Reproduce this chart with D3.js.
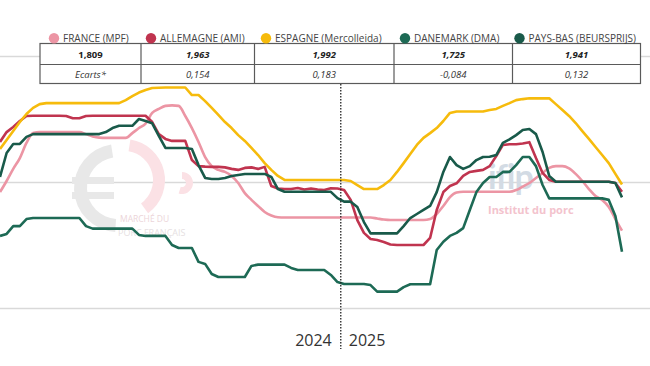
<!DOCTYPE html>
<html><head><meta charset="utf-8">
<script src="https://cdn.jsdelivr.net/npm/d3@7"></script>
<style>
html,body{margin:0;padding:0;background:#fff;}
svg{display:block;font-family:"Open Sans",sans-serif;}
</style></head>
<body>
<svg id="c" width="650" height="366"></svg>
<script>
// ---------- DATA ----------
const seriesNames = ["FRANCE (MPF)", "ALLEMAGNE (AMI)", "ESPAGNE (Mercolleida)", "DANEMARK (DMA)", "PAYS-BAS (BEURSPRIJS)"];
const lastValues = ["1,809", "1,963", "1,992", "1,725", "1,941"];
const ecarts = ["Ecarts*", "0,154", "0,183", "-0,084", "0,132"];
const yearLabels = ["2024", "2025"];
const gridValues = [1.5, 2.0, 2.5];
// weekly prices (€/kg), 2024 week 1 -> 2025 week 43
const france = [1.962,2.006,2.054,2.097,2.157,2.196,
2.200,2.200,2.200,2.200,2.200,2.200,2.200,
2.192,2.183,2.178,2.177,2.177,2.177,2.177,
2.196,2.216,2.234,2.276,2.292,2.304,2.306,2.304,2.264,2.216,2.161,2.101,2.065,2.050,2.042,2.026,1.998,1.958,1.931,1.907,1.883,1.869,1.862,
1.861,1.861,1.861,1.861,1.861,1.861,1.861,1.861,1.861,1.861,1.861,1.861,1.861,1.861,
1.857,1.853,1.851,1.851,1.851,1.851,1.851,1.851,
1.855,1.875,1.907,1.942,1.960,
1.963,1.963,1.963,1.963,1.963,1.963,1.963,1.963,
1.970,1.984,1.998,2.018,2.038,2.058,2.065,2.065,2.056,2.034,2.006,1.974,1.946,1.931,1.903,1.855,1.809];
const allemagne = [2.161,2.200,2.220,2.244,2.264,
2.265,2.265,2.265,2.265,2.265,
2.264,2.255,2.255,2.264,
2.265,2.265,2.265,2.265,2.265,2.265,2.265,2.265,2.265,
2.240,2.192,2.173,2.165,2.165,2.165,
2.089,2.065,2.063,2.062,2.062,2.060,2.054,2.050,2.058,2.060,2.054,2.062,
1.986,1.976,1.974,1.974,1.978,1.972,1.976,1.972,1.970,1.977,1.976,1.970,
1.931,1.851,1.800,1.776,1.772,1.764,1.754,
1.752,1.752,1.752,1.752,1.752,
1.780,1.891,1.962,1.986,1.997,2.026,2.042,2.046,2.050,2.065,2.105,2.149,2.152,2.152,2.155,2.160,2.097,2.038,2.010,
2.003,2.003,2.003,2.003,2.003,2.003,2.003,2.003,2.003,
1.998,1.963];
const espagne = [2.133,2.169,2.204,2.240,2.272,2.296,2.311,
2.315,2.315,2.315,2.315,2.315,2.315,2.315,2.315,2.315,2.315,2.315,2.315,
2.327,2.343,2.357,2.367,2.375,2.376,
2.377,2.377,2.377,2.377,
2.347,2.347,2.323,2.296,2.268,2.240,2.216,2.188,2.165,2.137,2.109,2.077,2.050,2.026,2.010,
2.010,2.010,2.010,2.010,2.010,2.010,2.010,2.010,2.010,
2.006,1.990,1.974,1.974,1.974,1.990,2.010,2.042,2.077,2.113,2.149,2.177,2.196,2.216,2.244,2.276,
2.282,2.282,2.282,2.282,2.282,
2.288,2.292,2.304,2.315,2.327,2.331,
2.334,2.334,2.334,2.334,
2.311,2.288,2.264,2.236,2.204,2.173,2.141,2.109,2.077,2.034,1.992];
const danemark = [1.788,1.796,1.827,1.827,1.855,
1.859,1.859,1.859,1.859,1.859,1.859,1.859,1.859,
1.827,
1.817,1.817,1.817,1.817,1.817,1.817,1.817,
1.792,
1.788,1.788,1.788,1.788,
1.752,1.740,1.740,1.740,
1.685,1.677,1.637,
1.625,1.625,1.625,1.625,1.625,
1.669,
1.674,1.674,1.674,1.674,1.674,
1.661,
1.653,1.653,1.653,1.653,1.653,
1.633,1.605,
1.597,1.597,1.597,1.597,
1.593,
1.567,1.567,1.567,1.567,
1.585,
1.596,1.596,1.596,1.596,
1.732,1.765,1.788,1.800,1.819,1.891,1.962,1.998,2.022,2.022,2.042,2.042,2.069,2.101,2.101,2.065,1.990,
1.937,1.937,1.937,1.937,1.937,1.937,1.937,1.937,1.937,
1.931,1.867,1.725];
const paysBas = [2.022,2.117,2.153,2.153,2.181,
2.192,2.192,2.192,2.192,2.192,2.192,2.192,2.192,2.192,2.192,2.192,
2.200,2.216,
2.225,2.225,2.225,
2.252,2.244,2.235,2.185,
2.137,2.137,2.137,2.137,
2.133,2.069,2.018,2.014,2.014,2.018,2.026,2.030,
2.034,2.034,2.034,2.034,
2.022,1.974,
1.963,1.963,1.963,1.963,1.963,1.963,1.963,1.963,
1.938,1.924,1.924,1.903,1.843,
1.798,1.798,1.798,1.798,1.798,
1.827,1.859,1.875,1.891,1.907,1.962,2.042,2.101,2.069,2.054,2.065,2.089,2.101,2.102,2.109,2.157,2.171,2.188,2.208,2.212,2.192,2.121,2.026,
2.003,2.003,2.003,2.003,2.003,2.003,2.003,2.003,2.003,
1.998,1.941];
const seriesValues = [france, allemagne, espagne, danemark, paysBas];
const yearBreakIndex = 51.5; // between 2024 W52 and 2025 W1

// ---------- STYLE / LAYOUT ----------
const colors = ["#ec95a4", "#c0344f", "#f6bb0c", "#1d6a55", "#195a4a"];
const W = 650, H = 366;
const svg = d3.select("#c");
const x = d3.scaleLinear().domain([0, france.length - 1]).range([0, 622]);
const y = d3.scaleLinear().domain([1.5, 2.5]).range([308.5, 56.5]);

// gridlines
svg.append("g").selectAll("line").data(gridValues).join("line")
  .attr("x1", 0).attr("x2", W)
  .attr("y1", d => y(d)).attr("y2", d => y(d))
  .attr("stroke", "#d9d9d9").attr("stroke-width", 1.5);

// watermarks
const wm = svg.append("g");
const arc = d3.arc();
wm.append("path").attr("transform", "translate(118,188)")
  .attr("d", arc({innerRadius: 31, outerRadius: 44, startAngle: Math.PI * 1.02, endAngle: Math.PI * 1.95}))
  .attr("fill", "#e8e8e8");
wm.append("rect").attr("x", 72).attr("y", 177).attr("width", 42).attr("height", 7).attr("fill", "#e8e8e8");
wm.append("rect").attr("x", 72).attr("y", 192).attr("width", 42).attr("height", 7).attr("fill", "#e8e8e8");
wm.append("path").attr("transform", "translate(124,180)")
  .attr("d", arc({innerRadius: 29, outerRadius: 41, startAngle: Math.PI * 0.05, endAngle: Math.PI * 0.8}))
  .attr("fill", "#fbe1e5");
wm.append("path").attr("transform", "translate(182,183)")
  .attr("d", arc({innerRadius: 4, outerRadius: 11, startAngle: 0, endAngle: Math.PI * 1.1}))
  .attr("fill", "#fbe1e5");
wm.append("text").attr("x", 120).attr("y", 222).attr("font-size", 8.5).attr("fill", "#ecd5d9").text("MARCHÉ DU");
wm.append("text").attr("x", 118).attr("y", 235.5).attr("font-size", 9).attr("fill", "#e6dfe2").text("PORC FRANÇAIS");
wm.append("text").attr("x", 488).attr("y", 189).attr("font-size", 34).attr("font-weight", 700)
  .attr("font-family", "Lato, sans-serif").attr("fill", "#d3dbe4").attr("letter-spacing", -1).text("ifip");
wm.append("text").attr("x", 488).attr("y", 214).attr("font-size", 11).attr("font-weight", 700)
  .attr("fill", "#f3c3cd").text("Institut du porc");

// lines
const line = d3.line().x((d, i) => x(i)).y(d => y(d));
const lineSmooth = d3.line().x((d, i) => x(i)).y(d => y(d)).curve(d3.curveMonotoneX);
svg.append("g").selectAll("path").data(seriesValues).join("path")
  .attr("d", (d, i) => i === 0 ? lineSmooth(d) : line(d))
  .attr("fill", "none")
  .attr("stroke", (d, i) => colors[i])
  .attr("stroke-width", 2.6)
  .attr("stroke-linejoin", "round");

// year divider
const xb = x(yearBreakIndex);
svg.append("line").attr("x1", xb).attr("x2", xb).attr("y1", 84).attr("y2", 349)
  .attr("stroke", "#222").attr("stroke-width", 1.3).attr("stroke-dasharray", "1.4,1.6");
svg.append("text").attr("x", xb - 9).attr("y", 346).attr("text-anchor", "end")
  .attr("font-size", 16).attr("fill", "#333").text(yearLabels[0]);
svg.append("text").attr("x", xb + 8).attr("y", 346).attr("text-anchor", "start")
  .attr("font-size", 16).attr("fill", "#333").text(yearLabels[1]);

// table + legend
const colEdges = [40, 141, 254.5, 394, 512.5, 640.5];
const legendDotX = [54, 151, 266, 405, 519.5];
const rowY = [43.5, 64.5, 83.5];
const tbl = svg.append("g");
tbl.append("rect").attr("x", colEdges[0]).attr("y", rowY[0])
  .attr("width", colEdges[5] - colEdges[0]).attr("height", rowY[2] - rowY[0])
  .attr("fill", "#fff").attr("stroke", "#5a5a5a").attr("stroke-width", 1.2);
tbl.append("line").attr("x1", colEdges[0]).attr("x2", colEdges[5]).attr("y1", rowY[1]).attr("y2", rowY[1])
  .attr("stroke", "#5a5a5a").attr("stroke-width", 1.2);
tbl.selectAll("line.v").data(colEdges.slice(1, 5)).join("line").attr("class", "v")
  .attr("x1", d => d).attr("x2", d => d).attr("y1", rowY[0]).attr("y2", rowY[2])
  .attr("stroke", "#5a5a5a").attr("stroke-width", 1.2);

seriesNames.forEach((name, i) => {
  const cx = (colEdges[i] + colEdges[i + 1]) / 2;
  tbl.append("circle").attr("cx", legendDotX[i]).attr("cy", 38.3).attr("r", 5.2).attr("fill", colors[i]);
  tbl.append("text").attr("x", legendDotX[i] + 9).attr("y", 41.8).attr("font-size", 10)
    .attr("fill", "#444").text(name);
  tbl.append("text").attr("x", cx).attr("y", 57.5).attr("text-anchor", "middle")
    .attr("font-size", 9.5).attr("font-weight", 700).attr("font-style", i === 0 ? "normal" : "italic")
    .attr("fill", "#222").text(lastValues[i]);
  tbl.append("text").attr("x", cx).attr("y", 77.5).attr("text-anchor", "middle")
    .attr("font-size", 9.5).attr("font-style", "italic")
    .attr("fill", "#333").text(ecarts[i]);
});
</script>
</body></html>
